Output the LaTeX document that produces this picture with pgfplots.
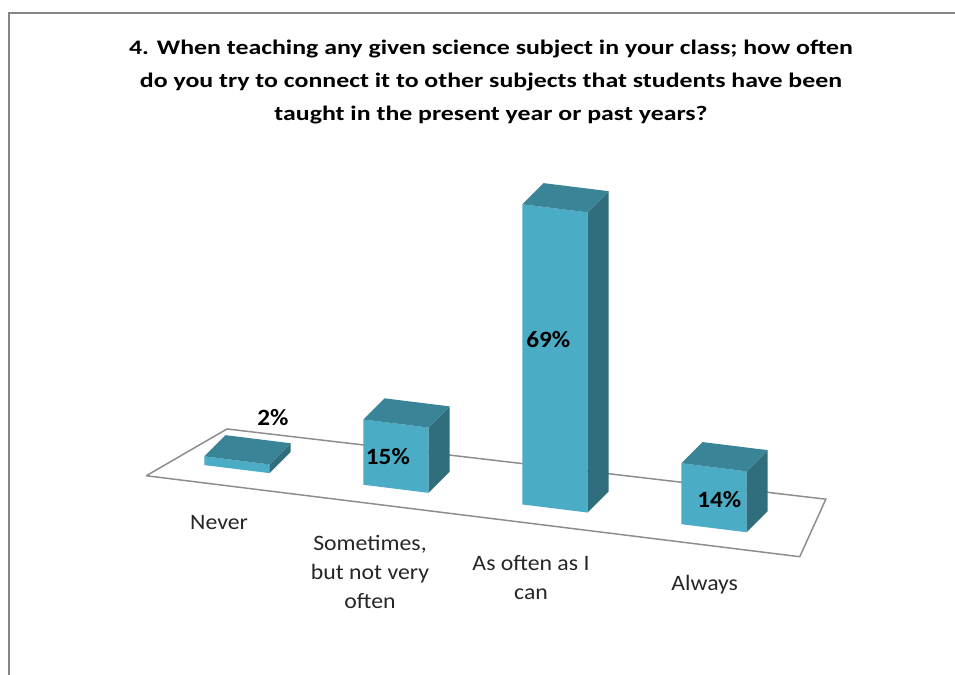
\documentclass[border=0pt]{standalone}
\usepackage{pgfplots}
\pgfplotsset{compat=1.18}
\usepackage{fontspec}
\setmainfont{Carlito}
\newfontfamily\titlefont[FakeStretch=1.25]{Carlito}
\newfontfamily\labelfont[FakeStretch=1.08]{Carlito}
\definecolor{barfront}{RGB}{75,172,198}
\definecolor{bartop}{RGB}{58,132,152}
\definecolor{barside}{RGB}{48,110,126}
\definecolor{framegray}{RGB}{134,134,134}
\definecolor{floorgray}{RGB}{140,140,140}

% one 3D bar: #1 = category position, #2 = value (%)
\newcommand{\cuboid}[2]{%
  \pgfmathsetmacro{\xl}{#1-0.205}%
  \pgfmathsetmacro{\xr}{#1+0.205}%
  \edef\temp{%
   \noexpand\addplot3[fill=barfront,draw=none,mark=none] coordinates {(\xl,0.3,0) (\xr,0.3,0) (\xr,0.3,#2) (\xl,0.3,#2)};
   \noexpand\addplot3[fill=barside,draw=none,mark=none] coordinates {(\xr,0.3,0) (\xr,0.7,0) (\xr,0.7,#2) (\xr,0.3,#2)};
   \noexpand\addplot3[fill=bartop,draw=none,mark=none] coordinates {(\xl,0.3,#2) (\xr,0.3,#2) (\xr,0.7,#2) (\xl,0.7,#2)};
  }\temp}

\pgfplotsset{dlabel/.style={draw=none, mark=none, nodes near coords, point meta=explicit symbolic,
    nodes near coords style={font=\labelfont\bfseries\fontsize{17.5}{18}\selectfont, anchor=center, text=black, #1}}}

\begin{document}
\begin{tikzpicture}
\begin{axis}[
  x={(119.25pt,-14.775pt)}, y={(39.75pt,39.75pt)}, z={(0pt,3.2625pt)},
  xmin=-0.47, xmax=3.64, ymin=0, ymax=1, zmin=0, zmax=70,
  hide axis, clip=false]
  \coordinate (O) at (axis cs:0,0,0);
  % floor
  \addplot3[draw=floorgray, line width=1.1pt, fill=white, mark=none]
    coordinates {(-0.47,0,0) (3.64,0,0) (3.464,1.02,0) (-0.28,0.953,0) (-0.47,0,0)};
  % bars: Never 2, Sometimes 15, As often as I can 69, Always 14
  \cuboid{0}{2}
  \cuboid{1}{15}
  \cuboid{2}{69}
  \cuboid{3}{14}
  % data labels
  \addplot3[dlabel={xshift=19pt, yshift=24pt}] coordinates {(0,0.5,2) [2\%]};
  \addplot3[dlabel={xshift=-6pt}] coordinates {(1,0.3,7.5) [15\%]};
  \addplot3[dlabel={xshift=-5pt, yshift=14pt}] coordinates {(2,0.3,34.5) [69\%]};
  \addplot3[dlabel={xshift=4pt, yshift=-1pt}] coordinates {(3,0.3,7) [14\%]};
  % category labels
  \begin{scope}[every node/.style={align=center, anchor=north, yshift=-19.5pt, font=\labelfont\fontsize{16.5}{21.75}\selectfont, text=black!85}]
  \node[xshift=-1.5pt] at (axis cs:0,0,0) {Never};
  \node[xshift=-7.5pt] at (axis cs:1,0,0) {Sometimes,\\but not very\\often};
  \node[xshift=-6pt] at (axis cs:2,0,0) {As often as I\\can};
  \node[xshift=5pt] at (axis cs:3,0,0) {Always};
  \end{scope}
\end{axis}
% everything below is placed relative to the axis origin, which sits at (221,485) in the 955x674 frame
\begin{scope}[x=0.75pt, y=0.75pt, shift={(O)}]
  \draw[framegray, line width=1.5pt] (-212,-200) -- (-212,472) -- (745,472);
  \node[align=center, font=\titlefont\bfseries\fontsize{15.5}{24.4}\selectfont] at (270,403)
   {4. When teaching any given science subject in your class; how often\\
    do you try to connect it to other subjects that students have been\\
    taught in the present year or past years?};
  \pgfresetboundingbox
  \useasboundingbox (-221,-189) rectangle (734,485);
\end{scope}
\end{tikzpicture}
\end{document}
